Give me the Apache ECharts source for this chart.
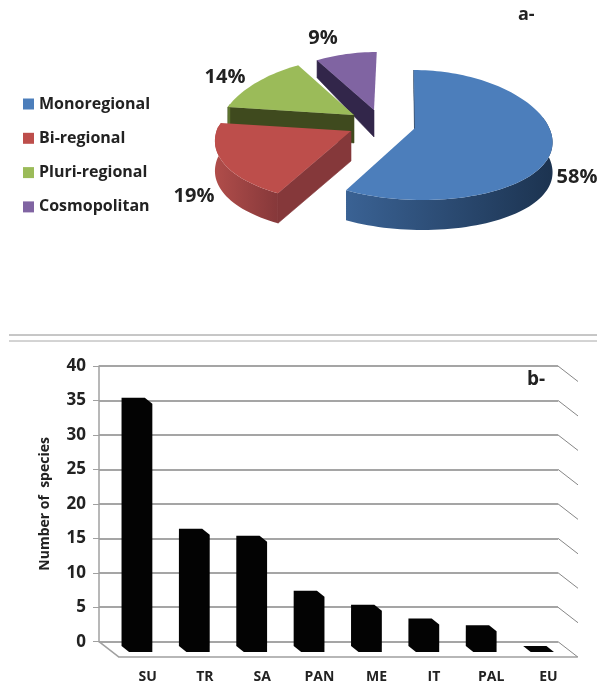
<!DOCTYPE html>
<html>
<head>
<meta charset="utf-8">
<style>html,body{margin:0;padding:0;background:#fff}#chart{width:597px;height:686px}</style>
<script src="https://cdn.jsdelivr.net/npm/echarts@6/dist/echarts.min.js"></script>
</head>
<body>
<div id="chart"></div>
<script>
// Range categories, share of species per category (%)
const rangeNames = ['Monoregional', 'Bi-regional', 'Pluri-regional', 'Cosmopolitan'];
const rangeShares = [58, 19, 14, 9];

// Species count per chorotype
const chorotypes = ['SU', 'TR', 'SA', 'PAN', 'ME', 'IT', 'PAL', 'EU'];
const speciesCounts = [36, 17, 16, 8, 6, 4, 3, 0];

const FONT = '"Open Sans", Lato, sans-serif';
const INK = '#222222';

// Slice colours: top surface, outer wall gradient (left, right), cut face
const topColors = ['#4c7ebb', '#bd4e4b', '#9bbb59', '#8064a2'];
const wallColors = [['#3a6294', '#1c3350'], ['#b04d4a', '#86383a'], ['#5d7330', '#5d7330'], ['#4c3c63', '#4c3c63']];
const faceColors = ['#1f3a5f', '#85383a', '#3f4a1e', '#32264a'];

// Exploded pie layout: the apex of each slice and the anchor of its percentage
const apexes = [[415, 128], [351, 131], [354, 115], [374, 110]];
const labelSpots = [[577, 177], [194, 196], [225, 77], [323, 38]];

const RX = 135, RY = 65, CENTER_DROP = 7;

// Point where the ray at clockwise angle deg leaves the tilted disc of a slice.
// The far half of the disc narrows and the near half widens, as in a perspective view.
function rimPoint(apex, deg) {
  const a = deg * Math.PI / 180, s = Math.sin(a), c = Math.cos(a), o = CENTER_DROP / RY;
  const b = o * c;
  const t = -b + Math.sqrt(b * b + 1 - o * o);
  const x = apex[0] + RX * t * s;
  const y = apex[1] + CENTER_DROP + RY * (-o - t * c);
  const dy = y - 128;
  return dy < 0 ? [400 + (x - 400) * (1 + 0.0014 * dy), y] : [310 + (x - 310) * (1 + 0.001 * dy), y];
}
function depthAt(y) { return Math.min(30, 27 + (y - 110) * 0.19); }
function lowered(p) { return [p[0], p[1] + depthAt(p[1])]; }

function sliceRenderer(index) {
  const before = rangeShares.slice(0, index).reduce((s, v) => s + v, 0);
  const total = rangeShares.reduce((s, v) => s + v, 0);
  const start = before / total * 360;
  const end = (before + rangeShares[index]) / total * 360;
  return function () {
    const apex = apexes[index];
    const rim = [];
    for (let d = start; d < end; d += 2) rim.push(rimPoint(apex, d));
    rim.push(rimPoint(apex, end));
    const children = [];

    // Cut face on the leading edge of the slice
    const edge = rim[0];
    children.push({
      type: 'polygon',
      shape: { points: [apex, edge, lowered(edge), lowered(apex)] },
      style: { fill: faceColors[index], stroke: faceColors[index], lineWidth: 0.6 }
    });

    // Outer wall, only where it faces the viewer
    const from = Math.max(start, 80), to = Math.min(end, 280);
    if (to > from) {
      const upper = [];
      for (let d = from; d < to; d += 2) upper.push(rimPoint(apex, d));
      upper.push(rimPoint(apex, to));
      const lower = upper.map(lowered).reverse();
      children.push({
        type: 'polygon',
        shape: { points: upper.concat(lower) },
        style: {
          fill: {
            type: 'linear', x: 0, y: 0, x2: 1, y2: 0,
            colorStops: [
              { offset: 0, color: wallColors[index][0] },
              { offset: 1, color: wallColors[index][1] }
            ]
          }
        }
      });
    }

    // Top surface
    children.push({
      type: 'polygon',
      shape: { points: [apex].concat(rim) },
      style: { fill: topColors[index] }
    });

    // Percentage
    children.push({
      type: 'text',
      style: {
        text: rangeShares[index] + '%',
        x: labelSpots[index][0], y: labelSpots[index][1],
        align: 'center', verticalAlign: 'middle',
        fill: INK, font: 'bold 20px ' + FONT
      }
    });
    return { type: 'group', children: children };
  };
}

// Purple is furthest back, blue nearest
const sliceSeries = [3, 2, 1, 0].map(i => ({
  type: 'custom',
  name: rangeNames[i],
  coordinateSystem: 'none',
  itemStyle: { color: topColors[i] },
  silent: true,
  data: [[rangeShares[i]]],
  renderItem: sliceRenderer(i)
}));

// Depth of the 3D floor in pixels, and the plane the bars stand on
const FLOOR_DX = 20, FLOOR_DY = 15.5;
const BAR_BACK = [5.5, 4.3], BAR_FRONT = [13, 10.3], BAR_HALF = 11.65;
const wallTicks = [0, 5, 10, 15, 20, 25, 30, 35, 40];
const WALL_GREY = '#878787';

const option = {
  backgroundColor: '#fff',
  animation: false,
  textStyle: { fontFamily: FONT },
  legend: {
    data: rangeNames,
    orient: 'vertical',
    left: 18, top: 91,
    icon: 'rect',
    itemWidth: 11, itemHeight: 11, itemGap: 18.3,
    selectedMode: false,
    textStyle: { fontFamily: FONT, fontWeight: 'bold', fontSize: 16, color: INK }
  },
  grid: [
    { left: 99, width: 459, top: 366, height: 275.7 },
    { left: 119, width: 458, top: 640, height: 17 }
  ],
  xAxis: [
    {
      gridIndex: 0, type: 'category', data: chorotypes,
      axisLine: { show: false }, axisTick: { show: false }, axisLabel: { show: false }
    },
    {
      gridIndex: 1, type: 'category', data: chorotypes,
      axisLine: { lineStyle: { color: '#a0a0a0', width: 1.5 } },
      axisTick: { length: 3, lineStyle: { color: '#a0a0a0' } },
      axisLabel: { margin: 13, color: INK, fontWeight: 'bold', fontSize: 14, fontFamily: FONT }
    }
  ],
  yAxis: [
    {
      gridIndex: 0, type: 'value', min: 0, max: 40, interval: 5,
      name: 'Number of  species',
      nameLocation: 'middle', nameGap: 47,
      nameTextStyle: { color: INK, fontWeight: 'bold', fontSize: 14, fontFamily: FONT },
      axisLine: { show: true, lineStyle: { color: '#a0a0a0', width: 1.5 } },
      axisTick: { show: true, length: 6, lineStyle: { color: '#a0a0a0' } },
      axisLabel: { margin: 13, color: INK, fontWeight: 'bold', fontSize: 17, fontFamily: FONT },
      splitLine: { show: true, lineStyle: { color: WALL_GREY, width: 1.6 } }
    },
    { gridIndex: 1, type: 'value', show: false, min: 0, max: 1 }
  ],
  series: sliceSeries.concat([
    {
      // Side wall and floor edges that run into the depth of the plot
      type: 'custom',
      xAxisIndex: 0, yAxisIndex: 0,
      silent: true,
      clip: false,
      data: wallTicks.map(v => [0, v]),
      renderItem(params, api) {
        const rightX = 558;
        const y = api.coord([0, api.value(1)])[1];
        const lines = [{
          type: 'line',
          shape: { x1: rightX, y1: y, x2: rightX + FLOOR_DX, y2: y + FLOOR_DY },
          style: { stroke: WALL_GREY, lineWidth: 1 }
        }];
        if (api.value(1) === 0) {
          lines.push({
            type: 'line',
            shape: { x1: 99, y1: y, x2: 99 + FLOOR_DX, y2: y + FLOOR_DY },
            style: { stroke: '#a0a0a0', lineWidth: 1.5 }
          });
        }
        return { type: 'group', children: lines };
      }
    },
    {
      // Black 3D columns standing mid-way across the floor, drawn as one outline
      type: 'custom',
      xAxisIndex: 0, yAxisIndex: 0,
      silent: true,
      clip: false,
      z: 5,
      data: speciesCounts.map((v, i) => [i, v]),
      renderItem(params, api) {
        const top = api.coord([api.value(0), api.value(1)]);
        const base = api.coord([api.value(0), 0]);
        const cx = top[0];
        const backL = cx + BAR_BACK[0] - BAR_HALF, backR = cx + BAR_BACK[0] + BAR_HALF;
        const frontL = cx + BAR_FRONT[0] - BAR_HALF, frontR = cx + BAR_FRONT[0] + BAR_HALF;
        return {
          type: 'polygon',
          shape: {
            points: [
              [backL, top[1] + BAR_BACK[1]],
              [backR, top[1] + BAR_BACK[1]],
              [frontR, top[1] + BAR_FRONT[1]],
              [frontR, base[1] + BAR_FRONT[1]],
              [frontL, base[1] + BAR_FRONT[1]],
              [backL, base[1] + BAR_BACK[1]]
            ]
          },
          style: { fill: '#030303' }
        };
      }
    }
  ]),
  graphic: [
    { type: 'line', shape: { x1: 9, y1: 335, x2: 597, y2: 335 }, style: { stroke: '#8e8e8e', lineWidth: 1 } },
    { type: 'line', shape: { x1: 9, y1: 341, x2: 597, y2: 341 }, style: { stroke: '#a8a8a8', lineWidth: 1 } },
    { type: 'text', x: 518, y: 6, style: { text: 'a-', fill: INK, font: 'bold 18px ' + FONT } },
    { type: 'text', x: 527, y: 370, style: { text: 'b-', fill: INK, font: 'bold 19px ' + FONT } }
  ]
};

echarts.init(document.getElementById('chart'), null, { renderer: 'canvas' }).setOption(option);
</script>
</body>
</html>
